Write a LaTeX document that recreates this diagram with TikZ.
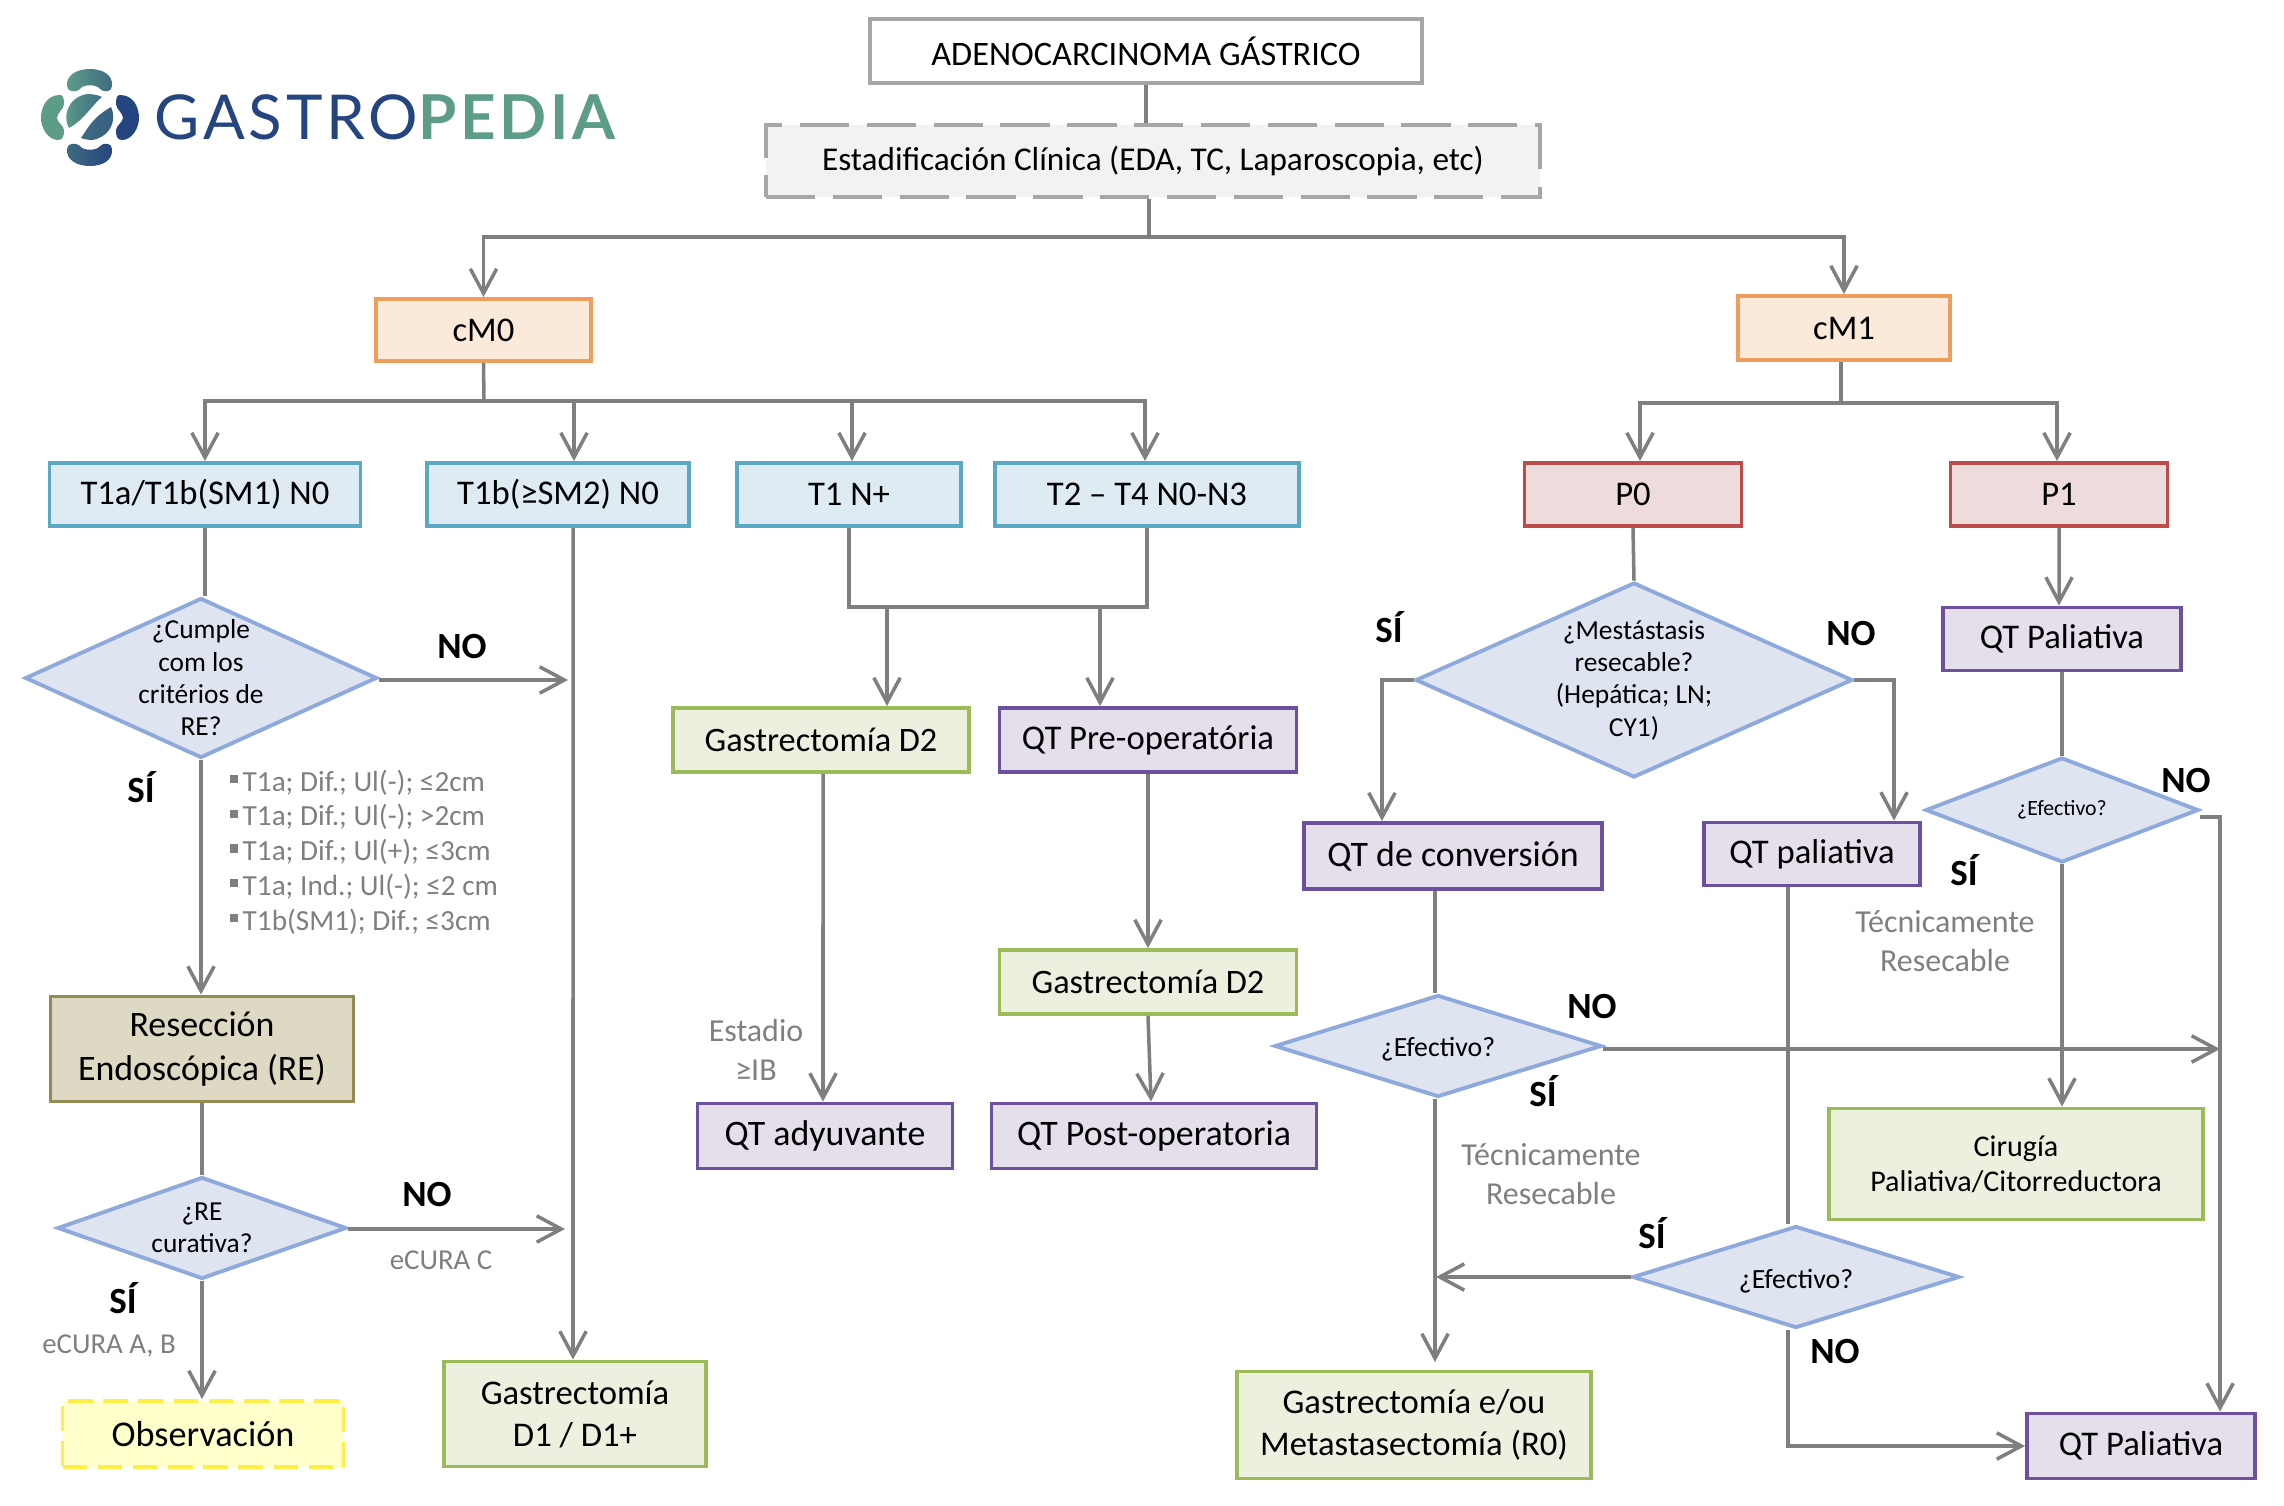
\documentclass[tikz,border=0pt]{standalone}
\usepackage{fontspec}
\setmainfont{Carlito}
\newfontfamily\logofont[LetterSpace=6]{Lato}
\usetikzlibrary{arrows.meta,shapes.geometric}

\definecolor{linegray}{HTML}{7F7F7F}
\definecolor{textgray}{HTML}{7F7F7F}
\definecolor{logonavy}{HTML}{24457F}
\definecolor{logogreen}{HTML}{5C9C88}
\definecolor{logomid}{HTML}{3F6C82}

\newcommand{\boxfont}{\fontsize{9.85}{12}\selectfont}
\newcommand{\decfont}{\fontsize{7.8}{9.2}\selectfont}
\newcommand{\notefont}{\fontsize{9.1}{10.9}\selectfont}
\newcommand{\listmark}{\rule[0.28em]{0.28em}{0.28em}\,}

\tikzset{
    sz/.style 2 args={minimum width=#1*0.01cm, minimum height=#2*0.01cm},
    basebox/.style={draw, line width=1.1pt, align=center, inner sep=0pt, text=black, font=\boxfont},
    titlebox/.style={basebox, draw=black!35, fill=white},
    stagingbox/.style={basebox, draw=black!35, fill=black!5, dashed, dash pattern=on 14pt off 5pt, font=\fontsize{9.45}{12}\selectfont},
    metabox/.style={basebox, draw={rgb,255:red,238;green,158;blue,92}, fill={rgb,255:red,251;green,233;blue,218}},
    tumorbox/.style={basebox, draw={rgb,255:red,91;green,168;blue,196}, fill={rgb,255:red,222;green,235;blue,242}},
    peribox/.style={basebox, draw={rgb,255:red,188;green,75;blue,75}, fill={rgb,255:red,238;green,220;blue,220}},
    chemobox/.style={basebox, draw={rgb,255:red,110;green,80;blue,160}, fill={rgb,255:red,229;green,223;blue,236}},
    surgbox/.style={basebox, draw={rgb,255:red,155;green,187;blue,89}, fill={rgb,255:red,235;green,241;blue,222}},
    endobox/.style={basebox, draw={rgb,255:red,148;green,138;blue,84}, fill={rgb,255:red,221;green,217;blue,195}},
    watchbox/.style={basebox, draw={rgb,255:red,255;green,238;blue,68}, fill={rgb,255:red,255;green,255;blue,204}, dashed, dash pattern=on 7pt off 3pt},
    decbox/.style={diamond, draw={rgb,255:red,142;green,169;blue,219}, line width=1.1pt, fill={rgb,255:red,222;green,229;blue,241}, inner sep=0pt, aspect=2},
    dectext/.style={align=center, font=\decfont, text=black},
    yesno/.style={font=\fontsize{10.5}{12}\selectfont\bfseries, text=black, inner sep=0pt},
    note/.style={font=\notefont, text=textgray, align=center, inner sep=0pt},
    conn/.style={draw=linegray, line width=1pt},
    flow/.style={conn, -{Straight Barb[length=7pt,width=7.5pt,line width=1pt]}}
}

\begin{document}
\begin{tikzpicture}[x=0.01cm, y=-0.01cm]
    \useasboundingbox (0,0) rectangle (2284,1506);

    % Logo
    \path[left color=logogreen, right color=logomid] (67,86) .. controls (66,75) and (77,69) .. (90,69) .. controls (103,69) and (113,75) .. (112,86) .. controls (112,92) and (104,93) .. (100,89) .. controls (97,84) and (83,84) .. (80,89) .. controls (76,93) and (67,92) .. (67,86) -- cycle;
    \path[left color=logomid, right color=logonavy] (67,149) .. controls (66,160) and (77,166) .. (90,166) .. controls (103,166) and (113,160) .. (112,149) .. controls (112,143) and (104,142) .. (100,146) .. controls (97,151) and (83,151) .. (80,146) .. controls (76,142) and (67,143) .. (67,149) -- cycle;
    \path[fill=logogreen] (60,95) .. controls (46,95) and (41,108) .. (41,118) .. controls (41,128) and (48,140) .. (58,140) .. controls (63,140) and (64,136) .. (64,130) .. controls (64,126) and (57,122) .. (57,118) .. controls (57,113) and (64,109) .. (64,104) .. controls (64,98) and (63,95) .. (60,95) -- cycle;
    \path[fill=logonavy] (120,95) .. controls (134,95) and (139,108) .. (139,118) .. controls (139,128) and (132,140) .. (122,140) .. controls (117,140) and (116,136) .. (116,130) .. controls (116,126) and (123,122) .. (123,118) .. controls (123,113) and (116,109) .. (116,104) .. controls (116,98) and (117,95) .. (120,95) -- cycle;
    \path[left color=logogreen, right color=logomid] (102,97) .. controls (92,105) and (84,120) .. (69,128) .. controls (63,118) and (66,98) .. (87,94) .. controls (93,94) and (98,95) .. (102,97) -- cycle;
    \path[left color=logomid, right color=logomid!60!logonavy] (111,107) .. controls (118,122) and (108,138) .. (92,140) .. controls (88,140) and (84,139) .. (81,138) .. controls (88,128) and (92,118) .. (111,107) -- cycle;
    \node[anchor=west, inner sep=0pt, font=\logofont\fontsize{17.6}{20}\selectfont] (logo) at (154,117) {\textcolor{logonavy}{GASTRO}\textcolor{logogreen}{\bfseries PEDIA}};

    % Top of the chart
    \node[titlebox, sz={552}{64}, font=\fontsize{9.75}{12}\selectfont] (adeno) at (1146,51) {ADENOCARCINOMA GÁSTRICO};
    \node[stagingbox, sz={774}{72}] (staging) at (1153,161) {Estadificación Clínica (EDA, TC, Laparoscopia, etc)};
    \node[metabox, sz={215}{62}] (cmzero) at (483.5,330) {cM0};
    \node[metabox, sz={212}{64}] (cmone) at (1844,328) {cM1};

    % T and P rows
    \foreach \nm/\xp/\bw/\txt in {tonea/205/311/{T1a/T1b(SM1) N0}, toneb/558/262/{T1b(≥SM2) N0}, tonen/849/224/{T1 N+}, ttwo/1147/304/{T2 – T4 N0-N3}} {
        \node[tumorbox, sz={\bw}{63}] (\nm) at (\xp,494.5) {\txt};
    }
    \node[peribox, sz={217}{63}] (pzero) at (1633,494.5) {P0};
    \node[peribox, sz={217}{63}] (pone) at (2059,494.5) {P1};

    % Decisions
    \node[decbox, sz={352}{160}, label={[dectext]center:¿Cumple\\com los\\critérios de\\RE?}] (cumple) at (201,678) {};
    \node[decbox, sz={289}{102}, label={[dectext]center:¿RE\\curativa?}] (curativa) at (202,1228) {};
    \node[decbox, sz={437}{195}, label={[dectext]center:¿Mestástasis\\resecable?\\(Hepática; LN;\\CY1)}] (mest) at (1634,680) {};
    \node[decbox, sz={273}{105}, label={[dectext, font=\fontsize{6.2}{8}\selectfont]center:¿Efectivo?}] (efright) at (2062,810) {};
    \node[decbox, sz={327}{102}, label={[dectext, yshift=-0.03cm, font=\fontsize{7.9}{9}\selectfont]center:¿Efectivo?}] (efmid) at (1438,1046) {};
    \node[decbox, sz={327}{102}, label={[dectext, yshift=-0.04cm, font=\fontsize{7.9}{9}\selectfont]center:¿Efectivo?}] (eflow) at (1796,1277) {};

    % Treatment boxes
    \node[endobox, sz={303}{105}, font=\fontsize{10.2}{12.3}\selectfont] (endo) at (202,1049) {Resección\\Endoscópica (RE)};
    \node[watchbox, sz={281}{66}, font=\fontsize{10.3}{12}\selectfont] (watch) at (203,1434) {Observación};
    \node[surgbox, sz={262}{105}] (gastone) at (575,1414) {Gastrectomía\\D1 / D1+};
    \node[surgbox, sz={296}{64}, font=\fontsize{9.75}{12}\selectfont] (gastleft) at (821,740) {Gastrectomía D2};
    \node[chemobox, sz={297}{64}] (qtpre) at (1148,740) {QT Pre-operatória};
    \node[surgbox, sz={297}{64}, font=\fontsize{9.75}{12}\selectfont] (gastright) at (1148,982) {Gastrectomía D2};
    \node[chemobox, sz={255}{65}, font=\fontsize{10.2}{12}\selectfont] (qtady) at (825,1136) {QT adyuvante};
    \node[chemobox, sz={325}{65}, font=\fontsize{10.2}{12}\selectfont] (qtpost) at (1154,1136) {QT Post-operatoria};
    \node[chemobox, sz={298}{66}, font=\fontsize{10.2}{12}\selectfont] (qtconv) at (1453,856) {QT de conversión};
    \node[chemobox, sz={216}{63}] (qtpal) at (1812,854) {QT paliativa};
    \node[chemobox, sz={238}{63}] (qttop) at (2062,639) {QT Paliativa};
    \node[surgbox, sz={374}{111}, font=\fontsize{8.55}{9.9}\selectfont] (cirugia) at (2016,1164) {Cirugía\\Paliativa/Citorreductora};
    \node[chemobox, sz={228}{65}] (qtbot) at (2141,1446) {QT Paliativa};
    \node[surgbox, sz={354}{107}] (gasteou) at (1414,1425) {Gastrectomía e/ou\\Metastasectomía (R0)};

    % Free ends of connectors
    \coordinate (splitA) at (1149,237);
    \coordinate (splitB) at (484,401);
    \coordinate (splitC) at (1841,403);
    \coordinate (joinT) at (1147,607);
    \coordinate (dropA) at (887,607);
    \coordinate (dropB) at (1100,607);
    \coordinate (tipcumple) at (568,680);
    \coordinate (tipcurativa) at (565,1229);
    \coordinate (tipmid) at (2220,1049);
    \coordinate (tipleft) at (1436,1277);
    \coordinate (railmid) at (1435,1362);
    \coordinate (raillow) at (1788,1446);

    % Connectors
    \draw[conn] (adeno.south) -- (adeno.south |- staging.north);
    \draw[conn] (staging.south -| splitA) -- (splitA);
    \draw[flow] (splitA) -| (cmzero.north);
    \draw[flow] (splitA) -| (cmone.north);
    \draw[conn] (cmzero.south) -- (splitB);
    \foreach \xp/\target in {205/tonea, 574/toneb, 852/tonen, 1145/ttwo} {
        \coordinate (droptop) at (\xp,0);
        \draw[flow] (splitB) -| (droptop |- \target.north);
    }
    \draw[conn] (cmone.south -| splitC) -- (splitC);
    \draw[flow] (splitC) -| ([xshift=0.07cm]pzero.north);
    \draw[flow] (splitC) -| ([xshift=-0.02cm]pone.north);

    \draw[conn] (tonea.south) -- (tonea.south |- cumple.north);
    \draw[flow] (cumple.east |- tipcumple) -- (tipcumple);
    \draw[flow] (cumple.south) -- (cumple.south |- endo.north);
    \draw[conn] (endo.south) -- (curativa.north);
    \draw[flow] (curativa.east |- tipcurativa) -- (tipcurativa);
    \draw[flow] (curativa.south) -- (curativa.south |- watch.north);
    \draw[flow] ([xshift=0.15cm]toneb.south) -- ([xshift=-0.02cm]gastone.north);

    \draw[conn] (tonen.south) |- (joinT) -- (ttwo.south);
    \draw[flow] (dropA) -- (dropA |- gastleft.north);
    \draw[flow] (dropB) -- (dropB |- qtpre.north);
    \draw[flow] ([xshift=0.02cm]gastleft.south) -- ([xshift=-0.02cm]qtady.north);
    \draw[flow] (qtpre.south) -- (gastright.north);
    \draw[flow] (gastright.south) -- ([xshift=-0.03cm]qtpost.north);

    \draw[conn] (pzero.south) -- (mest.north);
    \draw[flow] (mest.west) -| ([xshift=-0.71cm]qtconv.north);
    \draw[flow] (mest.east) -| ([xshift=0.82cm]qtpal.north);
    \draw[flow] (pone.south) -- ([xshift=-0.03cm]qttop.north);
    \draw[conn] (qttop.south) -- (efright.north);
    \draw[flow] (efright.south) -- (efright.south |- cirugia.north);
    \draw[flow] ([yshift=-0.07cm]efright.east) -| ([xshift=0.79cm]qtbot.north);
    \draw[conn] (qtconv.south -| railmid) -- (efmid.north -| railmid);
    \draw[flow] (efmid.south -| railmid) -- (railmid);
    \draw[flow] (efmid.east |- tipmid) -- (tipmid);
    \draw[conn] (qtpal.south -| raillow) -- (eflow.north -| raillow);
    \draw[flow] (eflow.west) -- (tipleft);
    \draw[flow] (eflow.south -| raillow) -- (raillow) -- (qtbot.west);

    % Yes and no marks
    \foreach \nm/\xp/\yp/\txt in {markA/462/647/NO, markB/141/787/SÍ, markC/427/1195/NO, markD/123/1298/SÍ, markE/1389/627/SÍ, markF/1851/634/NO, markG/2186/781/NO, markH/1964/870/SÍ, markI/1592/1007/NO, markJ/1543/1091/SÍ, markK/1652/1233/SÍ, markL/1835/1352/NO} {
        \node[yesno] (\nm) at (\xp,\yp) {\txt};
    }

    % Gray notes
    \node[note, anchor=north west, align=left, font=\fontsize{8.3}{9.9}\selectfont] (criteria) at (229,769) {\listmark T1a; Dif.; Ul(-); ≤2cm\\\listmark T1a; Dif.; Ul(-); >2cm\\\listmark T1a; Dif.; Ul(+); ≤3cm\\\listmark T1a; Ind.; Ul(-); ≤2 cm\\\listmark T1b(SM1); Dif.; ≤3cm};
    \node[note, font=\fontsize{8.2}{10.9}\selectfont] (ecurac) at (441,1260) {eCURA C};
    \node[note, font=\fontsize{8.2}{10.9}\selectfont] (ecuraab) at (109,1346) {eCURA A, B};
    \node[note] (estadio) at (756,1050) {Estadio\\≥IB};
    \node[note] (tecmid) at (1551,1174) {Técnicamente\\Resecable};
    \node[note] (tecright) at (1945,941) {Técnicamente\\Resecable};
\end{tikzpicture}
\end{document}
